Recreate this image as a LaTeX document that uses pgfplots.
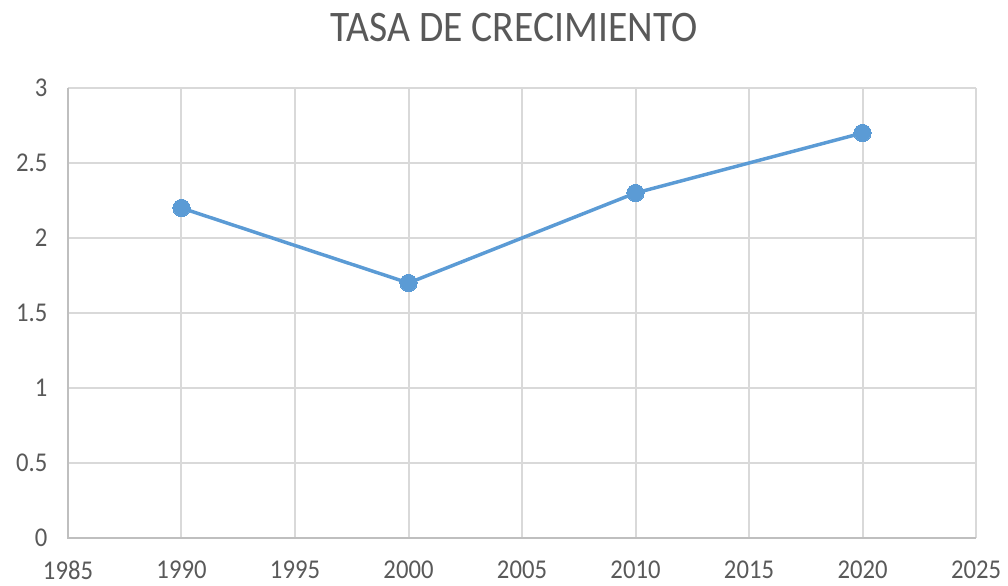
\documentclass[border=0pt]{standalone}
\usepackage{fontspec}
\setmainfont{Carlito}
\usepackage{graphicx}
\usepackage{pgfplots}
\pgfplotsset{compat=1.18}
\definecolor{txt}{HTML}{595959}
\definecolor{grd}{HTML}{D9D9D9}
\definecolor{axl}{HTML}{BFBFBF}
\definecolor{ser}{HTML}{5B9BD5}
\begin{document}
\begin{tikzpicture}
\begin{axis}[
  at={(0,0)}, anchor=south west,
  scale only axis,
  width=681pt, height=337.5pt,
  xmin=1985, xmax=2025, ymin=0, ymax=3,
  xtick={1985,1990,...,2025},
  ytick={0,0.5,...,3},
  /pgf/number format/assume math mode=true,
  xticklabel={\scalebox{1}[1.1]{\pgfmathprintnumber[1000 sep={},fixed]{\tick}}},
  yticklabel={\scalebox{1}[1.1]{\pgfmathprintnumber[fixed]{\tick}}},
  tick label style={font=\fontsize{18.5pt}{20pt}\selectfont, text=txt},
  xticklabel style={yshift=-14pt},
  yticklabel style={xshift=-12pt},
  grid=major,
  major grid style={grd, line width=1.5pt},
  axis line style={draw=none},
  major tick length=0pt,
  clip=false,
]
\draw[axl, line width=1.5pt] (axis cs:1985,3) -- (axis cs:1985,0) -- (axis cs:2025,0);
\addplot[ser, line width=2.6pt, mark=*, mark size=6.5pt, mark options={fill=ser, draw=ser, line width=0pt}]
  coordinates {(1990,2.2) (2000,1.7) (2010,2.3) (2020,2.7)};
\node[font=\fontsize{29.7pt}{32pt}\selectfont, text=txt] at (rel axis cs:0.491,1.0) [yshift=45.5pt] {\scalebox{1}[1.1]{TASA DE CRECIMIENTO}};
\end{axis}
\pgfresetboundingbox
\path[use as bounding box] (-51pt,-36pt) rectangle (705pt,403.5pt);
\end{tikzpicture}
\end{document}
